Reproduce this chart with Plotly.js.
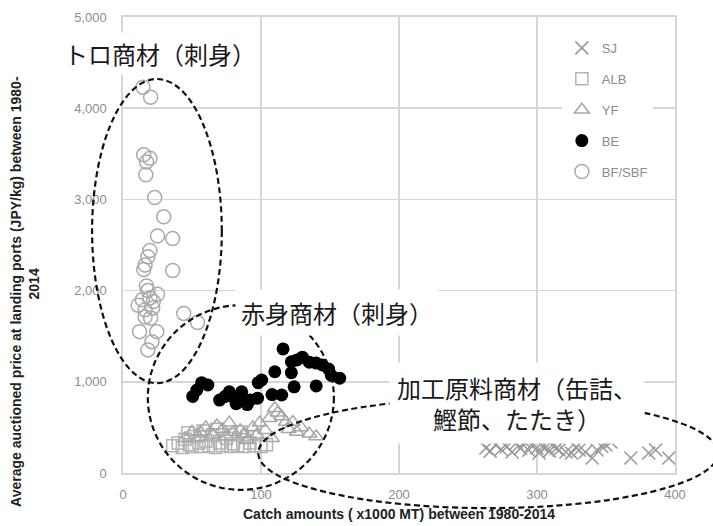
<!DOCTYPE html>
<html>
<head>
<meta charset="utf-8">
<script src="https://cdn.plot.ly/plotly-3.0.1.min.js"></script>
<style>html,body{margin:0;padding:0;background:#fff;}#chart{width:713px;height:526px;}</style>
</head>
<body>
<div id="chart"></div>
<script>
// ---- data (catch x1000 MT, price JPY/kg) ----
var sjCatch  = [263,266,270,274,278,282,285,288,291,294,296,300,301.5,304,306.6,309,311,314,316,321,325,328,330.5,335,340,343.5,347,350,353.6,368,381,386,395.5];
var sjPrice  = [274,240,307,260,285,230,329,270,340,250,307,274,219,290,285,240,307,270,252,230,219,280,252,230,164,252,290,307,340,164,219,252,164];

var albCatch = [36,40,43,45,48,50,52,55,57,60,62,65,67,70,72,75,78,80,83,86,88,92,95,100,104,58,47,68,78,90];
var albPrice = [300,330,280,370,310,290,400,330,290,350,300,420,280,330,300,380,290,320,300,450,290,330,300,290,310,460,440,480,420,400];

var yfCatch  = [45,50,56,60,65,68,72,77,80,85,88,94,97,99,103,106,110,112,115,118,120,123,126,129,135,140,108,90,75,55];
var yfPrice  = [380,450,450,500,420,520,480,550,450,470,430,500,420,550,470,600,710,660,620,560,480,560,450,500,430,400,380,360,400,390];

var beCatch  = [50.5,53.5,57,61.5,70,74,77,80,82,86,85,90,92,97.5,98,100.5,108,115,110,116,122,122,124,126,130,135,140,140,144.5,149,151,157];
var bePrice  = [840,910,990,965,800,840,890,830,760,890,800,750,800,820,990,1020,860,855,1110,1360,1100,1220,945,1240,1270,1215,1205,955,1185,1140,1070,1040];

var bfCatch  = [14.5,20,15,19.5,17,16.5,23,29.5,25,36,19.5,18,16,15,36,17,18,25,19.5,11,21.5,16,44,16,12,24.5,21,18,54,22,14,20];
var bfPrice  = [4230,4120,3490,3450,3410,3270,3020,2810,2600,2570,2440,2370,2280,2230,2220,2050,2000,1960,1920,1840,1810,1790,1750,1710,1550,1550,1440,1350,1650,1880,1900,1700];

var seriesNames = ['SJ','ALB','YF','BE','BF/SBF'];
var xTicks = [0,100,200,300,400];
var yTicks = [0,1000,2000,3000,4000,5000];

var labelToro  = 'トロ商材（刺身）';
var labelAkami = '赤身商材（刺身）';
var labelKakou = '加工原料商材（缶詰、<br>鰹節、たたき）';

var xTitle = 'Catch amounts ( x1000 MT) between 1980-2014';
var yTitleLine1 = 'Average auctioned price at landing ports (JPY/kg) between 1980-';
var yTitleLine2 = '2014';

// ---- traces ----
function mk(name, xs, ys, marker) {
  return {type:'scatter', mode:'markers', name:name, x:xs, y:ys, marker:marker,
          legendgroup:name, hoverinfo:'x+y+name'};
}
var traces = [
  mk(seriesNames[0], sjCatch, sjPrice, {symbol:'x-thin-open', size:13, color:'#9a9a9a', line:{color:'#9a9a9a', width:1.6}}),
  mk(seriesNames[1], albCatch, albPrice, {symbol:'square-open', size:12, color:'#b3b3b3', line:{color:'#b3b3b3', width:1.5}}),
  mk(seriesNames[2], yfCatch, yfPrice, {symbol:'triangle-up-open', size:13, color:'#a6a6a6', line:{color:'#a6a6a6', width:1.5}}),
  mk(seriesNames[3], beCatch, bePrice, {symbol:'circle', size:13, color:'#000000', line:{width:0}}),
  mk(seriesNames[4], bfCatch, bfPrice, {symbol:'circle-open', size:14, color:'#aaaaaa', line:{color:'#aaaaaa', width:1.5}})
];

var nb = '\u00A0';
function pad(n){ var s=''; for (var i=0;i<n;i++) s+=nb; return s + '\u200D'; }

var gridCol = '#d6d6d6';
var layout = {
  width:713, height:526,
  margin:{l:123, r:38, t:17, b:53, pad:0},
  paper_bgcolor:'#ffffff', plot_bgcolor:'#ffffff',
  font:{family:'Liberation Sans, Arial, sans-serif', color:'#8c8c8c', size:13},
  showlegend:true,
  legend:{x:0.795, y:0.965, xanchor:'left', yanchor:'top', bgcolor:'#ffffff',
          borderwidth:0, font:{size:13, color:'#8c8c8c'}, tracegroupgap:11,
          traceorder:'grouped'},
  xaxis:{range:[0,400], tickvals:xTicks, showgrid:true, gridcolor:gridCol, gridwidth:1.6,
         zeroline:false, showline:true, mirror:true, linecolor:gridCol, linewidth:1.6,
         ticks:'', ticklabelstandoff:9, tickfont:{size:13, color:'#8c8c8c'},
         title:{text:xTitle, font:{size:14, color:'#222222', family:'Liberation Sans, Arial, sans-serif', weight:'bold'}, standoff:8}},
  yaxis:{range:[0,5000], tickvals:yTicks, tickformat:',d', showgrid:true, gridcolor:gridCol, gridwidth:1.6,
         zeroline:false, showline:true, mirror:true, linecolor:gridCol, linewidth:1.6,
         ticks:'', ticklabelstandoff:12, tickfont:{size:13, color:'#8c8c8c'},
         title:{text:yTitleLine1 + pad(24) + '<br>' + yTitleLine2 + pad(20),
                font:{size:14, color:'#222222', family:'Liberation Sans, Arial, sans-serif', weight:'bold'}, standoff:31}},
  shapes:[
    {type:'circle', xref:'paper', yref:'paper', x0:-0.056, x1:0.179, y0:0.197, y1:0.864,
     line:{color:'#111111', width:2.2, dash:'6px,3.5px'}, layer:'above'},
    {type:'circle', xref:'paper', yref:'paper', x0:0.045, x1:0.382, y0:-0.037, y1:0.368,
     line:{color:'#111111', width:2.2, dash:'6px,3.5px'}, layer:'above'},
    {type:'circle', xref:'paper', yref:'paper', x0:0.245, x1:1.078, y0:-0.077, y1:0.164,
     line:{color:'#111111', width:2.2, dash:'6px,3.5px'}, layer:'above'}
  ],
  annotations:[
    {text:labelToro, xref:'paper', yref:'paper', x:0.067, y:0.919, xanchor:'center', yanchor:'middle', showarrow:false,
     font:{family:'Noto Sans CJK JP', size:24, color:'#1a1a1a'}, bgcolor:'#ffffff', borderpad:3},
    {text:labelAkami, xref:'paper', yref:'paper', x:0.388, y:0.353, xanchor:'center', yanchor:'middle', showarrow:false,
     font:{family:'Noto Sans CJK JP', size:24, color:'#1a1a1a'}, bgcolor:'#ffffff', borderpad:5},
    {text:labelKakou, xref:'paper', yref:'paper', x:0.714, y:0.154, xanchor:'center', yanchor:'middle', showarrow:false,
     font:{family:'Noto Sans CJK JP', size:24, color:'#1a1a1a'}, bgcolor:'#ffffff', borderpad:7}
  ]
};

Plotly.newPlot('chart', traces, layout, {staticPlot:true, displayModeBar:false});
</script>
</body>
</html>
